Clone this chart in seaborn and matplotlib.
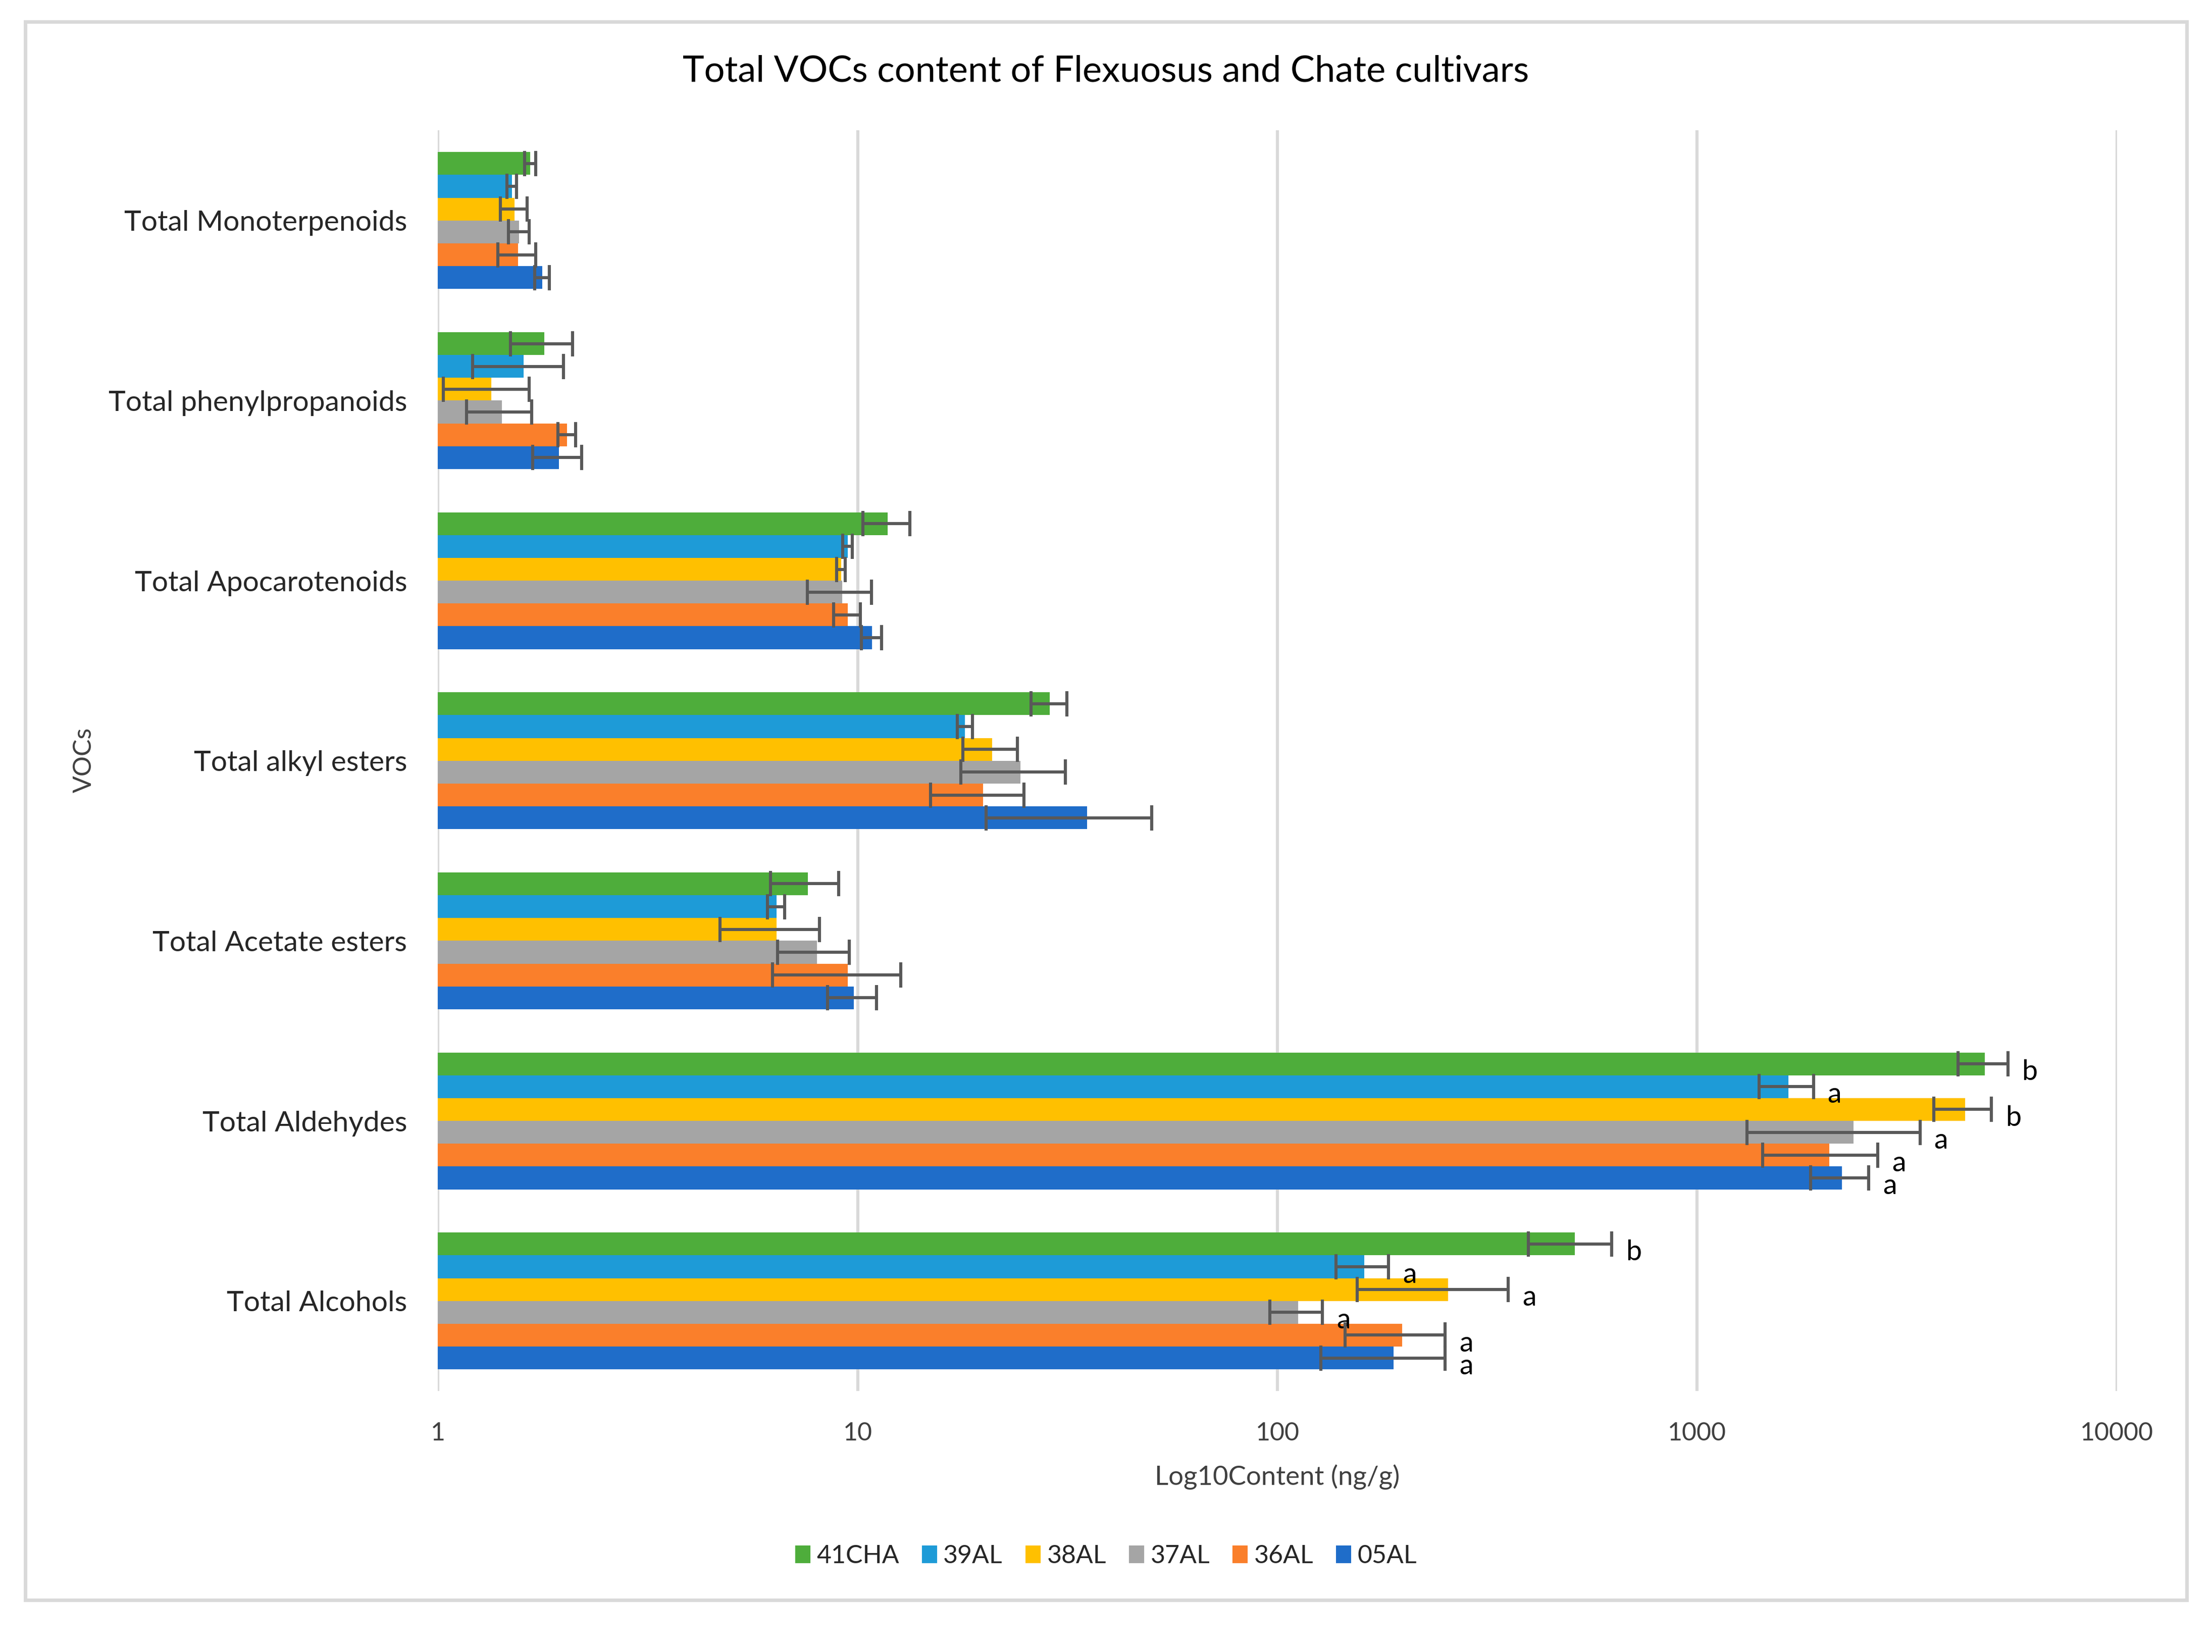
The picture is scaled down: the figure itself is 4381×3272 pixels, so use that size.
import numpy as np
import pandas as pd
import matplotlib
matplotlib.use('Agg')
import matplotlib.pyplot as plt
import seaborn as sns
from matplotlib.ticker import FixedLocator, NullLocator
from matplotlib.patches import Rectangle

# categories top -> bottom
categories = ['Total Monoterpenoids', 'Total phenylpropanoids', 'Total Apocarotenoids',
              'Total alkyl esters', 'Total Acetate esters', 'Total Aldehydes', 'Total Alcohols']
cultivars = ['41CHA', '39AL', '38AL', '37AL', '36AL', '05AL']

# mean content (ng/g)
cha41 = [1.66, 1.79, 11.8, 28.7, 7.6, 4840, 511]
al39 = [1.50, 1.60, 9.46, 18.0, 6.4, 1648, 161]
al38 = [1.52, 1.34, 9.13, 20.9, 6.4, 4345, 255]
al37 = [1.56, 1.42, 9.18, 24.4, 8.0, 2356, 112]
al36 = [1.55, 2.03, 9.46, 19.9, 9.46, 2063, 198]
al05 = [1.77, 1.94, 10.8, 35.2, 9.78, 2213, 189]

# error bar half-widths
cha41_err = [0.05, 0.30, 1.5, 2.8, 1.4, 660, 115]
al39_err = [0.04, 0.39, 0.25, 0.75, 0.3, 245, 23]
al38_err = [0.11, 0.31, 0.22, 3.1, 1.7, 680, 100]
al37_err = [0.09, 0.25, 1.6, 6.8, 1.55, 1040, 16]
al36_err = [0.16, 0.10, 0.7, 5.0, 3.2, 630, 53]
al05_err = [0.07, 0.26, 0.6, 15.0, 1.3, 350, 62]

# significance letters (cultivar order)
sig_aldehydes = ['b', 'a', 'b', 'a', 'a', 'a']
sig_alcohols = ['b', 'a', 'a', 'a', 'a', 'a']

colors = ['#4EAD3B', '#1E9BD7', '#FFC000', '#A5A5A5', '#FA7F2B', '#1F6DC9']

means = [cha41, al39, al38, al37, al36, al05]
errs = [cha41_err, al39_err, al38_err, al37_err, al36_err, al05_err]

rows = []
for cv, m, e in zip(cultivars, means, errs):
    for cat, v, s in zip(categories, m, e):
        rows.append({'category': cat, 'cultivar': cv, 'value': v, 'err': s})
df = pd.DataFrame(rows)

sig = {}
for cv, l in zip(cultivars, sig_aldehydes):
    sig[('Total Aldehydes', cv)] = l
for cv, l in zip(cultivars, sig_alcohols):
    sig[('Total Alcohols', cv)] = l

sns.set_style('white')
plt.rcParams['font.family'] = ['Lato', 'DejaVu Sans']

fig = plt.figure(figsize=(21.905, 16.36), dpi=200)
ax = fig.add_axes([0.198, 0.158, 0.759, 0.763])

sns.barplot(data=df, x='value', y='category', hue='cultivar', order=categories,
            hue_order=cultivars, palette=colors, width=0.76, errorbar=None,
            saturation=1, linewidth=0, ax=ax)

ax.set_xscale('log')
ax.set_xlim(1, 10000)
ax.set_ylim(len(categories) - 0.5, -0.5)

# error bars + letters, positioned from the drawn bars
for cv, cont in zip(cultivars, ax.containers):
    for bar in cont:
        yc = bar.get_y() + bar.get_height() / 2
        cat = categories[int(round(yc))]
        row = df[(df.category == cat) & (df.cultivar == cv)].iloc[0]
        ax.errorbar(row['value'], yc, xerr=row['err'], fmt='none', ecolor='#595959',
                    elinewidth=2.2, capsize=9, capthick=2.2, zorder=5)
        if (cat, cv) in sig:
            ax.annotate(sig[(cat, cv)], (row['value'] + row['err'], yc),
                        xytext=(10, -6), textcoords='offset points',
                        ha='left', va='center', fontsize=20, color='#000000')

ax.xaxis.set_major_locator(FixedLocator([1, 10, 100, 1000, 10000]))
ax.xaxis.set_minor_locator(NullLocator())
ax.set_xticklabels(['1', '10', '100', '1000', '10000'])
ax.grid(False)
ax.xaxis.grid(True, color='#D9D9D9', linewidth=2.2)
ax.set_axisbelow(True)
for sp in ax.spines.values():
    sp.set_visible(False)
ax.tick_params(axis='both', length=0)
ax.tick_params(axis='x', labelsize=18, pad=22)
ax.tick_params(axis='y', labelsize=20.5, pad=22)
for t in ax.get_xticklabels():
    t.set_color('#404040')

ax.set_xlabel('Log10Content (ng/g)', fontsize=19, labelpad=14, color='#404040')
ax.set_ylabel('')
fig.text(0.038, 0.54, 'VOCs', rotation=90, ha='center', va='center', fontsize=18, color='#404040')

fig.text(0.5, 0.957, 'Total VOCs content of Flexuosus and Chate cultivars',
         ha='center', va='center', fontsize=26, color='#000000')

handles, labels = ax.get_legend_handles_labels()
if ax.get_legend() is not None:
    ax.get_legend().remove()
fig.legend(handles, labels, loc='center', bbox_to_anchor=(0.5, 0.058), ncol=6,
           frameon=False, fontsize=18, handlelength=0.6, handleheight=0.7,
           handletextpad=0.25, columnspacing=0.9)

fig.patches.append(Rectangle((0.0115, 0.0316), 0.977, 0.9554, transform=fig.transFigure,
                             fill=False, edgecolor='#D9D9D9', linewidth=2.5))

fig.savefig('out.png', dpi=200)
